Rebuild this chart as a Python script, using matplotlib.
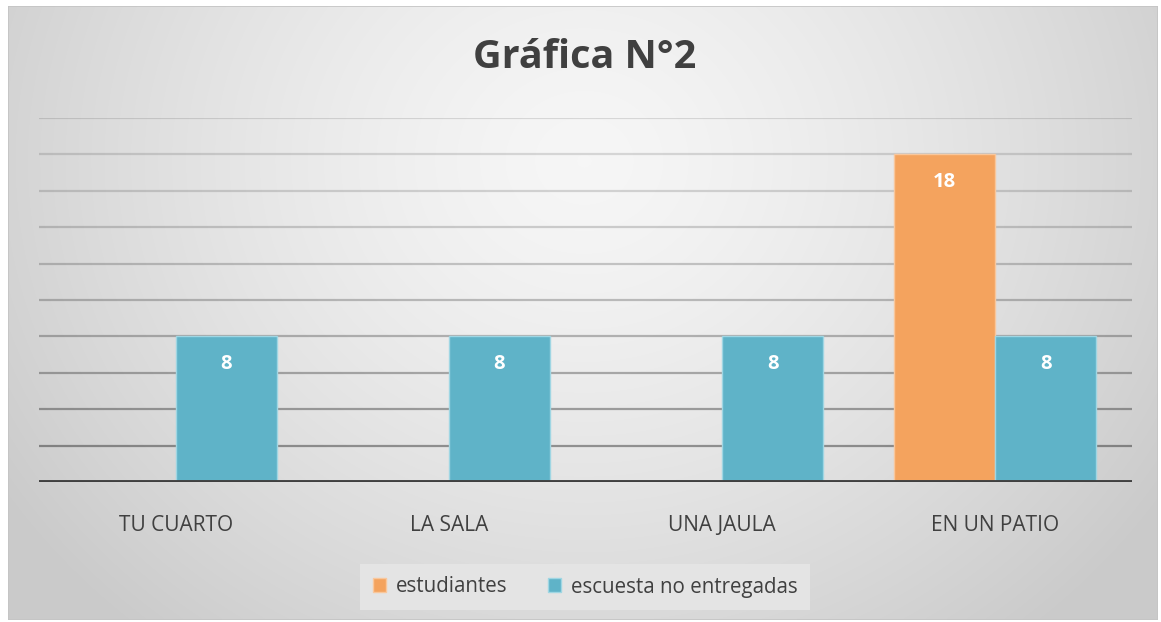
import numpy as np
import matplotlib
matplotlib.use("Agg")
import matplotlib.pyplot as plt
from matplotlib.patches import Rectangle

plt.rcParams['font.family'] = ['Open Sans', 'DejaVu Sans']

title = "Gráfica N°2"
categories = ["TU CUARTO", "LA SALA", "UNA JAULA", "EN UN PATIO"]
series_names = ["estudiantes", "escuesta no entregadas"]
estudiantes = [0, 0, 0, 18]
no_entregadas = [8, 8, 8, 8]
colors = ["#F4A35E", "#5FB3C8"]

W, H = 1161, 622
fig = plt.figure(figsize=(W / 100, H / 100), dpi=100)
fig.patch.set_facecolor("white")

# background gradient panel
bg = fig.add_axes([8 / W, 2 / H, 1150 / W, 614 / H])
yy, xx = np.mgrid[0:200, 0:400]
cx, cy = 200, 50
d = np.sqrt(((xx - cx) / 240.0) ** 2 + ((yy - cy) / 200.0) ** 2)
d = np.clip(d, 0, 1)
val = 0.965 - 0.17 * d ** 1.4
img = np.dstack([val, val, val])
bg.imshow(img, aspect="auto", extent=[0, 1, 0, 1], origin="upper", interpolation="bilinear")
bg.set_xlim(0, 1)
bg.set_ylim(0, 1)
bg.axis("off")
bg.add_patch(Rectangle((0, 0), 1, 1, transform=bg.transAxes, fill=False,
                       edgecolor="#c4c4c4", linewidth=1.2))

ax = fig.add_axes([39 / W, 1 - 482 / H, (1132 - 39) / W, (482 - 118) / H])
ax.set_facecolor("none")
x = np.arange(len(categories))
w = 0.37

ax.set_xlim(-0.5, len(categories) - 0.5)
ax.set_ylim(0, 20)

# gridlines (darker toward the bottom)
for gy in range(2, 21, 2):
    a = 0.12 + 0.30 * (1 - gy / 20) ** 1.5
    ax.axhline(gy, color="black", alpha=a, linewidth=1.6, zorder=1)

b1 = ax.bar(x - w / 2, estudiantes, width=w, color=colors[0], edgecolor="#f9c79c",
            linewidth=1.0, zorder=2, label=series_names[0])
b2 = ax.bar(x + w / 2, no_entregadas, width=w, color=colors[1], edgecolor="#9fd6e3",
            linewidth=1.0, zorder=2, label=series_names[1])

for bars, vals in ((b1, estudiantes), (b2, no_entregadas)):
    for r, v in zip(bars, vals):
        if v:
            ax.text(r.get_x() + r.get_width() / 2, v - 1.5, str(v), ha="center", va="center",
                    color="white", fontsize=14.5, fontweight="bold", zorder=3)

ax.axhline(0, color="#404040", linewidth=2.8, zorder=4)

for s in ax.spines.values():
    s.set_visible(False)
ax.set_yticks([])
ax.set_xticks(x)
ax.set_xticklabels(categories, fontsize=15, color="#404040")
ax.tick_params(axis="x", length=0, pad=24)

fig.text(585 / W, 1 - 58 / H, title, ha="center", va="center", fontsize=28.5,
         fontweight="bold", color="#404040")

leg = fig.legend(handles=[b1, b2], labels=series_names, loc="center",
                 bbox_to_anchor=(585 / W, 1 - 587 / H), ncol=2, frameon=True,
                 fancybox=False, fontsize=14.8, handlelength=0.65, handleheight=0.65,
                 handletextpad=0.45, columnspacing=2.0, borderpad=0.6,
                 borderaxespad=0, labelcolor="#404040")
leg.get_frame().set_facecolor("#e4e4e4")
leg.get_frame().set_edgecolor("none")
leg.get_frame().set_alpha(1)

fig.savefig("out.png", dpi=100)
